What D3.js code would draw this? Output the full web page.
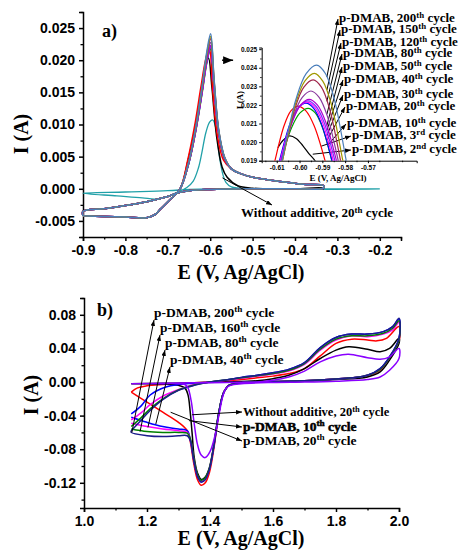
<!DOCTYPE html>
<html>
<head>
<meta charset="utf-8">
<script src="https://cdn.jsdelivr.net/npm/d3@7"></script>
<style>
  body { margin: 0; background: #fff; }
  svg { display: block; }
</style>
</head>
<body>
<svg id="chart" width="460" height="550"></svg>
<script>
// ---------- Panel a: Zn stripping, p-DMAB cycles (E in V, I in A) ----------
const aCycleNums   = ["2", "3", "10", "20", "30", "40", "50", "80", "120", "150", "200"];
const aCycleSup    = ["nd", "rd", "th", "th", "th", "th", "th", "th", "th", "th", "th"];

// shared cathodic part of the forward sweep
const mainLead = [[-0.90,-0.0042],[-0.85,-0.0043],[-0.80,-0.0044],[-0.75,-0.0045],[-0.73,-0.0040],[-0.718,-0.0032],[-0.695,-0.0017],[-0.671,0.0000]];
// stripping peak of each cycle
const mainPeak2   = [[-0.653,0.0042],[-0.637,0.0090],[-0.622,0.0148],[-0.612,0.0190],[-0.604,0.0203],[-0.596,0.0158],[-0.585,0.0082],[-0.572,0.0034],[-0.560,0.0018],[-0.535,0.0005],[-0.50,0.0001],[-0.42,0.0000],[-0.333,0.0000]];
const mainPeak3   = [[-0.653,0.0045],[-0.637,0.0097],[-0.622,0.0158],[-0.611,0.0200],[-0.602,0.0219],[-0.594,0.0152],[-0.583,0.0082],[-0.569,0.0045]];
const mainPeak10  = [[-0.650,0.0041],[-0.634,0.0090],[-0.619,0.0149],[-0.608,0.0196],[-0.599,0.0218],[-0.591,0.0158],[-0.580,0.0086],[-0.566,0.0046]];
const mainPeak20  = [[-0.650,0.0041],[-0.634,0.0091],[-0.619,0.0151],[-0.608,0.0198],[-0.599,0.0221],[-0.591,0.0160],[-0.580,0.0087],[-0.566,0.0047]];
const mainPeak30  = [[-0.650,0.0042],[-0.634,0.0091],[-0.619,0.0152],[-0.608,0.0199],[-0.599,0.02215],[-0.591,0.0160],[-0.580,0.0087],[-0.566,0.0047]];
const mainPeak40  = [[-0.650,0.0042],[-0.634,0.0092],[-0.619,0.0152],[-0.608,0.0200],[-0.599,0.02222],[-0.591,0.0161],[-0.580,0.0088],[-0.566,0.0047]];
const mainPeak50  = [[-0.650,0.0042],[-0.634,0.0092],[-0.619,0.0153],[-0.608,0.0201],[-0.599,0.0223],[-0.591,0.0162],[-0.580,0.0088],[-0.566,0.0047]];
const mainPeak80  = [[-0.650,0.0042],[-0.634,0.0093],[-0.619,0.0155],[-0.608,0.0204],[-0.599,0.02275],[-0.591,0.0165],[-0.580,0.0089],[-0.566,0.0048]];
const mainPeak120 = [[-0.650,0.0043],[-0.634,0.0094],[-0.619,0.0157],[-0.608,0.0208],[-0.599,0.02335],[-0.591,0.0168],[-0.580,0.0090],[-0.566,0.0048]];
const mainPeak150 = [[-0.650,0.0043],[-0.634,0.0095],[-0.619,0.0158],[-0.608,0.0210],[-0.599,0.0237],[-0.591,0.0170],[-0.580,0.0091],[-0.566,0.0049]];
const mainPeak200 = [[-0.650,0.0043],[-0.634,0.0096],[-0.619,0.0160],[-0.608,0.0213],[-0.599,0.0241],[-0.591,0.0172],[-0.580,0.0092],[-0.566,0.0049]];
// decay after the peak and the return sweep
const mainTail   = [[-0.550,0.0031],[-0.530,0.0024],[-0.500,0.0018],[-0.430,0.0011],[-0.380,0.0007],[-0.333,0.0005]];
const mainReturn = [[-0.333,0.0001],[-0.40,0.0000],[-0.50,0.0000],[-0.60,-0.0001],[-0.65,-0.0003],[-0.68,-0.0007],[-0.70,-0.0012],[-0.75,-0.0020],[-0.80,-0.0026],[-0.85,-0.0031],[-0.90,-0.0035],[-0.90,-0.0042]];

// without additive, 20th cycle
const noAdditiveA = [[-0.20,0.0000],[-0.35,0.0000],[-0.50,0.0000],[-0.60,0.0000],[-0.65,-0.0001],[-0.70,-0.0003],[-0.80,-0.0005],[-0.90,-0.0007],
  [-0.82,-0.0011],[-0.76,-0.0014],[-0.73,-0.0016],[-0.705,-0.0013],[-0.68,-0.0006],[-0.655,0.0002],[-0.640,0.0012],[-0.628,0.0032],[-0.620,0.0055],
  [-0.610,0.0088],[-0.601,0.0104],[-0.594,0.0107],[-0.587,0.0095],[-0.577,0.0045],[-0.570,0.0022],[-0.563,0.0010],[-0.550,0.0003],[-0.50,0.0000],[-0.20,0.0000]];

// inset: tops of the stripping peaks
const insetPeak2   = [[-0.6095,0.0197],[-0.6072,0.0201],[-0.6045,0.02033],[-0.6015,0.0202],[-0.5985,0.0198],[-0.5960,0.0194],[-0.5932,0.0190],[-0.5925,0.0188]];
const insetPeak3   = [[-0.6112,0.0188],[-0.6108,0.019],[-0.6068,0.02088],[-0.6038,0.02168],[-0.6008,0.02194],[-0.5972,0.02168],[-0.5936,0.02088],[-0.5888,0.019],[-0.5884,0.0188]];
const insetPeak10  = [[-0.6086,0.0188],[-0.6082,0.019],[-0.6034,0.0208],[-0.5998,0.02157],[-0.5962,0.02182],[-0.5931,0.02157],[-0.5900,0.0208],[-0.5858,0.019],[-0.5854,0.0188]];
const insetPeak20  = [[-0.6092,0.0188],[-0.6088,0.019],[-0.6042,0.02098],[-0.6007,0.02182],[-0.5972,0.0221],[-0.5938,0.02182],[-0.5904,0.02098],[-0.5858,0.019],[-0.5854,0.0188]];
const insetPeak30  = [[-0.6089,0.0188],[-0.6085,0.019],[-0.6038,0.02102],[-0.6003,0.02187],[-0.5968,0.02215],[-0.5933,0.02187],[-0.5898,0.02102],[-0.5852,0.019],[-0.5848,0.0188]];
const insetPeak40  = [[-0.6086,0.0188],[-0.6082,0.019],[-0.6034,0.02106],[-0.5999,0.02193],[-0.5963,0.02222],[-0.5928,0.02193],[-0.5892,0.02106],[-0.5845,0.019],[-0.5841,0.0188]];
const insetPeak50  = [[-0.6084,0.0188],[-0.6080,0.019],[-0.6031,0.02111],[-0.5995,0.0220],[-0.5958,0.0223],[-0.5922,0.0220],[-0.5886,0.02111],[-0.5838,0.019],[-0.5834,0.0188]];
const insetPeak80  = [[-0.6082,0.0188],[-0.6078,0.019],[-0.6027,0.0214],[-0.5988,0.02241],[-0.5950,0.02275],[-0.5914,0.02241],[-0.5878,0.0214],[-0.5830,0.019],[-0.5826,0.0188]];
const insetPeak120 = [[-0.6079,0.0188],[-0.6075,0.019],[-0.6021,0.02178],[-0.5981,0.02296],[-0.5940,0.02335],[-0.5904,0.02296],[-0.5868,0.02178],[-0.5820,0.019],[-0.5816,0.0188]];
const insetPeak150 = [[-0.6079,0.0188],[-0.6075,0.019],[-0.6019,0.02201],[-0.5977,0.02328],[-0.5935,0.0237],[-0.5898,0.02328],[-0.5860,0.02201],[-0.5810,0.019],[-0.5806,0.0188]];
const insetPeak200 = [[-0.6081,0.0188],[-0.6077,0.019],[-0.6016,0.02229],[-0.5971,0.02368],[-0.5925,0.02414],[-0.5886,0.02368],[-0.5847,0.02229],[-0.5795,0.019],[-0.5791,0.0188]];

// points on the inset curves that the labels point at
const insetPointers = [[-0.5942,0.01935],[-0.5905,0.01978],[-0.5875,0.01985],[-0.5880,0.02008],[-0.5880,0.02034],[-0.5880,0.02063],[-0.5880,0.0209],[-0.5880,0.0215],[-0.5880,0.0222],[-0.5880,0.0228],[-0.5880,0.0235]];

// axis ticks, panel a
const aTicksX = [-0.9,-0.8,-0.7,-0.6,-0.5,-0.4,-0.3,-0.2];
const aTicksY = [-0.005,0.000,0.005,0.010,0.015,0.020,0.025];
const insetTicksX = [-0.61,-0.60,-0.59,-0.58,-0.57];
const insetTicksY = [0.019,0.020,0.021,0.022,0.023,0.024,0.025];

// ---------- Panel b: oxidation of p-DMAB (E in V, I in A) ----------
const bNoAdditive = [[1.15,-0.002],[1.25,-0.0015],[1.35,-0.001],[1.45,0.000],[1.55,0.0015],[1.60,0.004],[1.65,0.008],[1.70,0.016],[1.75,0.028],[1.80,0.038],[1.84,0.042],[1.90,0.039],[1.94,0.036],[1.97,0.040],[2.00,0.052],
  [2.00,0.046],[1.97,0.026],[1.94,0.012],[1.90,0.006],[1.80,0.003],[1.70,0.001],[1.60,0.000],[1.50,-0.001],[1.46,-0.004],[1.443,-0.013],[1.428,-0.036],[1.412,-0.075],[1.398,-0.102],[1.385,-0.113],[1.372,-0.116],[1.36,-0.108],[1.35,-0.090],[1.343,-0.060],[1.337,-0.035],[1.330,-0.015],[1.32,-0.007],[1.30,-0.004],[1.25,-0.0025],[1.20,-0.002],[1.15,-0.002]];
const bCycle10 = [[1.15,-0.012],[1.17,-0.007],[1.20,-0.0045],[1.25,-0.003],[1.30,-0.002],[1.35,-0.001],[1.40,0.000],[1.45,0.001],[1.50,0.003],[1.55,0.005],[1.60,0.007],[1.65,0.010],[1.70,0.016],[1.75,0.031],[1.80,0.046],[1.85,0.051],[1.90,0.050],[1.93,0.049],[1.96,0.052],[2.00,0.066],
  [2.00,0.048],[1.97,0.028],[1.94,0.014],[1.90,0.007],[1.85,0.005],[1.80,0.0035],[1.70,0.0015],[1.60,0.0005],[1.50,-0.001],[1.46,-0.004],[1.443,-0.013],[1.428,-0.038],[1.412,-0.080],[1.398,-0.108],[1.385,-0.120],[1.372,-0.123],[1.36,-0.116],[1.348,-0.096],[1.338,-0.072],[1.328,-0.058],[1.30,-0.048],[1.25,-0.036],[1.20,-0.024],[1.15,-0.012]];
const bCycle20 = [[1.15,-0.002],[1.25,-0.0015],[1.35,-0.001],[1.45,-0.0005],[1.55,0.000],[1.60,0.002],[1.65,0.006],[1.70,0.013],[1.75,0.024],[1.80,0.031],[1.84,0.033],[1.90,0.029],[1.94,0.027],[1.97,0.030],[2.00,0.040],
  [2.00,0.028],[1.97,0.014],[1.94,0.006],[1.90,0.003],[1.80,0.001],[1.70,0.000],[1.60,-0.0005],[1.50,-0.002],[1.465,-0.004],[1.45,-0.008],[1.44,-0.018],[1.428,-0.040],[1.415,-0.065],[1.40,-0.083],[1.385,-0.090],[1.372,-0.087],[1.36,-0.074],[1.35,-0.050],[1.34,-0.022],[1.33,-0.007],[1.32,-0.003],[1.25,-0.002],[1.15,-0.002]];
const bCycle40 = [[1.15,-0.038],[1.18,-0.029],[1.21,-0.0155],[1.26,-0.006],[1.30,-0.003],[1.35,-0.0015],[1.40,0.000],[1.45,0.0025],[1.50,0.0055],[1.55,0.008],[1.60,0.011],[1.65,0.015],[1.70,0.023],[1.75,0.041],[1.80,0.053],[1.85,0.057],[1.90,0.057],[1.95,0.060],[1.98,0.066],[2.00,0.075],
  [2.00,0.052],[1.97,0.030],[1.94,0.016],[1.90,0.008],[1.85,0.005],[1.80,0.0035],[1.70,0.0015],[1.60,0.0005],[1.50,-0.001],[1.46,-0.004],[1.443,-0.013],[1.428,-0.037],[1.412,-0.077],[1.398,-0.104],[1.385,-0.116],[1.372,-0.119],[1.36,-0.112],[1.348,-0.092],[1.338,-0.070],[1.328,-0.058],[1.30,-0.056],[1.25,-0.053],[1.20,-0.048],[1.15,-0.042]];
const bCycle80 = [[1.15,-0.045],[1.18,-0.037],[1.21,-0.027],[1.25,-0.017],[1.30,-0.009],[1.35,-0.003],[1.40,0.000],[1.45,0.002],[1.50,0.0045],[1.55,0.007],[1.60,0.0095],[1.65,0.013],[1.70,0.021],[1.75,0.038],[1.80,0.050],[1.85,0.055],[1.90,0.054],[1.95,0.057],[1.98,0.062],[2.00,0.071],
  [2.00,0.050],[1.97,0.029],[1.94,0.015],[1.90,0.008],[1.85,0.005],[1.80,0.0035],[1.70,0.0015],[1.60,0.0005],[1.50,-0.001],[1.46,-0.004],[1.443,-0.013],[1.428,-0.037],[1.412,-0.077],[1.398,-0.104],[1.385,-0.115],[1.372,-0.118],[1.36,-0.111],[1.348,-0.091],[1.338,-0.069],[1.328,-0.060],[1.30,-0.058],[1.25,-0.056],[1.20,-0.053],[1.15,-0.049]];
const bCycle160 = [[1.15,-0.053],[1.18,-0.043],[1.21,-0.032],[1.25,-0.020],[1.30,-0.0095],[1.35,-0.0035],[1.40,0.000],[1.45,0.0025],[1.50,0.005],[1.55,0.0075],[1.60,0.010],[1.65,0.014],[1.70,0.022],[1.75,0.039],[1.80,0.051],[1.85,0.055],[1.90,0.055],[1.95,0.058],[1.98,0.064],[2.00,0.073],
  [2.00,0.050],[1.97,0.029],[1.94,0.015],[1.90,0.008],[1.85,0.005],[1.80,0.0035],[1.70,0.0015],[1.60,0.0005],[1.50,-0.001],[1.46,-0.004],[1.443,-0.013],[1.428,-0.036],[1.412,-0.076],[1.398,-0.103],[1.385,-0.114],[1.372,-0.117],[1.36,-0.110],[1.348,-0.090],[1.338,-0.068],[1.328,-0.061],[1.30,-0.060],[1.25,-0.060],[1.20,-0.059],[1.15,-0.056]];
const bCycle200 = [[1.15,-0.058],[1.18,-0.046],[1.21,-0.034],[1.25,-0.021],[1.30,-0.010],[1.35,-0.004],[1.40,0.000],[1.45,0.0025],[1.50,0.0055],[1.55,0.008],[1.60,0.011],[1.65,0.015],[1.70,0.023],[1.75,0.041],[1.80,0.053],[1.85,0.057],[1.90,0.057],[1.95,0.060],[1.98,0.066],[2.00,0.076],
  [2.00,0.052],[1.97,0.030],[1.94,0.016],[1.90,0.008],[1.85,0.005],[1.80,0.0035],[1.70,0.0015],[1.60,0.0005],[1.50,-0.001],[1.46,-0.004],[1.443,-0.013],[1.428,-0.037],[1.412,-0.077],[1.398,-0.104],[1.385,-0.116],[1.372,-0.119],[1.36,-0.112],[1.348,-0.092],[1.338,-0.070],[1.328,-0.064],[1.30,-0.064],[1.25,-0.065],[1.20,-0.064],[1.15,-0.060],[1.15,-0.058]];

// points the panel b labels refer to
const bPointersTop    = [[1.152,-0.060],[1.178,-0.059],[1.203,-0.054],[1.228,-0.050]];   // 200th, 160th, 80th, 40th
const bPointersBottom = [[1.343,-0.039],[1.333,-0.046],[1.275,-0.036]];                  // without additive, 10th, 20th

const bTicksX = [1.0,1.2,1.4,1.6,1.8,2.0];
const bTicksY = [-0.12,-0.08,-0.04,0.00,0.04,0.08];

// ---------- drawing ----------
const svg = d3.select("#chart");
const serif = "'Liberation Serif','Times New Roman',serif";
const sans = "'Liberation Sans',Arial,sans-serif";

const defs = svg.append("defs");
function arrowMarker(id, w, h) {
  defs.append("marker").attr("id", id)
    .attr("viewBox", `0 0 ${w} ${h}`).attr("refX", w).attr("refY", h / 2)
    .attr("markerWidth", w).attr("markerHeight", h)
    .attr("markerUnits", "userSpaceOnUse").attr("orient", "auto")
    .append("path").attr("d", `M0,0L${w},${h / 2}L0,${h}Z`).attr("fill", "#000");
}
arrowMarker("headS", 6, 4.5);
arrowMarker("headL", 10, 8);

function styleAxis(g, size, sw) {
  g.select(".domain").attr("stroke-width", sw);
  g.selectAll(".tick line").attr("stroke-width", sw);
  g.selectAll(".tick text").attr("font-family", sans).attr("font-weight", "bold").attr("font-size", size).attr("fill", "#000");
}
function minorAxis(g, gen) {
  g.call(gen);
  g.select(".domain").remove();
  g.selectAll(".tick text").remove();
}
function supText(g, x, y, before, sup, after, size) {
  const t = g.append("text").attr("x", x).attr("y", y)
    .attr("font-family", serif).attr("font-weight", "bold").attr("font-size", size).attr("fill", "#000");
  t.append("tspan").text(before);
  t.append("tspan").attr("dy", -size * 0.34).attr("font-size", size * 0.68).text(sup);
  t.append("tspan").attr("dy", size * 0.34).text(after);
  return t;
}
function cycleText(g, x, y, num, sup, size) {
  return supText(g, x, y, `p-DMAB, ${num}`, sup, " cycle", size);
}

// ===== panel a =====
const xA = d3.scaleLinear().domain([-0.9, -0.15]).range([83, 401]);
const yA = d3.scaleLinear().domain([-0.0075, 0.0275]).range([237, 12]);
const lineA = d3.line().x(d => xA(d[0])).y(d => yA(d[1])).curve(d3.curveCatmullRom.alpha(0.5));

const aColors = ["#000000", "#ff0000", "#00a000", "#0000ff", "#ff00ff", "#7b2cff", "#b000d0", "#8a3a9e", "#a0284c", "#a09800", "#4a7ebb"];
const mainPeaks = [mainPeak2, mainPeak3, mainPeak10, mainPeak20, mainPeak30, mainPeak40, mainPeak50, mainPeak80, mainPeak120, mainPeak150, mainPeak200];
const insetPeaks = [insetPeak2, insetPeak3, insetPeak10, insetPeak20, insetPeak30, insetPeak40, insetPeak50, insetPeak80, insetPeak120, insetPeak150, insetPeak200];

const gA = svg.append("g");
gA.append("g").attr("transform", `translate(0,237)`)
  .call(g => minorAxis(g, d3.axisBottom(xA).tickValues(d3.range(-0.85, -0.14, 0.1)).tickSize(2.5)))
  .call(g => styleAxis(g, 14, 1.3));
gA.append("g").attr("transform", `translate(0,237)`)
  .call(d3.axisBottom(xA).tickValues(aTicksX).tickSizeOuter(0).tickSize(4).tickPadding(4).tickFormat(d => d.toFixed(1)))
  .call(g => styleAxis(g, 14, 1.5));
gA.append("g").attr("transform", `translate(83,0)`)
  .call(g => minorAxis(g, d3.axisLeft(yA).tickValues(d3.range(-0.0075, 0.028, 0.005)).tickSize(2.5)))
  .call(g => styleAxis(g, 14, 1.3));
gA.append("g").attr("transform", `translate(83,0)`)
  .call(d3.axisLeft(yA).tickValues(aTicksY).tickSizeOuter(0).tickSize(4).tickPadding(4).tickFormat(d => d.toFixed(3)))
  .call(g => styleAxis(g, 14, 1.5));

// voltammograms
const curvesA = gA.append("g").attr("fill", "none");
curvesA.append("path").attr("d", lineA(noAdditiveA)).attr("stroke", "#20a0a8").attr("stroke-width", 1.3);
mainPeaks.forEach((pk, i) => {
  const pts = i === 0 ? mainLead.concat(pk, mainReturn) : mainLead.concat(pk, mainTail, mainReturn);
  curvesA.append("path").attr("d", lineA(pts)).attr("stroke", aColors[i]).attr("stroke-width", 1.5);
});

gA.append("text").attr("x", 102).attr("y", 37).attr("font-family", serif).attr("font-weight", "bold").attr("font-size", 18).text("a)");
gA.append("text").attr("x", 241).attr("y", 279).attr("text-anchor", "middle").attr("font-family", serif).attr("font-weight", "bold").attr("font-size", 20).text("E (V, Ag/AgCl)");
gA.append("text").attr("transform", "translate(28,134) rotate(-90)").attr("text-anchor", "middle").attr("font-family", serif).attr("font-weight", "bold").attr("font-size", 20).text("I (A)");

// pointer from the main peak to the inset
gA.append("line").attr("x1", xA(-0.572)).attr("y1", yA(0.0200)).attr("x2", xA(-0.546)).attr("y2", yA(0.0200))
  .attr("stroke", "#000").attr("stroke-width", 1.5).attr("marker-end", "url(#headL)");

// without additive label
supText(gA, 241, 217, "Without additive, 20", "th", " cycle", 13);
gA.append("line").attr("x1", xA(-0.571)).attr("y1", yA(0.0017)).attr("x2", 272).attr("y2", 205)
  .attr("stroke", "#000").attr("stroke-width", 1).attr("marker-end", "url(#headS)");

// ----- inset -----
const xI = d3.scaleLinear().domain([-0.6166, -0.5486]).range([261.7, 416.7]);
const yI = d3.scaleLinear().domain([0.019, 0.02509]).range([160.7, 47.5]);
const lineI = d3.line().x(d => xI(d[0])).y(d => yI(d[1])).curve(d3.curveCatmullRom.alpha(0.5));
defs.append("clipPath").attr("id", "insetClip").append("rect")
  .attr("x", 261.7).attr("y", 47.5).attr("width", 155).attr("height", 113.2);

const gI = svg.append("g");
gI.append("g").attr("transform", `translate(0,160.7)`)
  .call(g => minorAxis(g, d3.axisBottom(xI).tickValues(d3.range(-0.615, -0.548, 0.01)).tickSize(1.5)))
  .call(g => styleAxis(g, 6.5, 0.9));
gI.append("g").attr("transform", `translate(0,160.7)`)
  .call(d3.axisBottom(xI).tickValues(insetTicksX).tickSizeOuter(0).tickSize(2.5).tickPadding(2).tickFormat(d => d.toFixed(2)))
  .call(g => styleAxis(g, 6.5, 1));
gI.append("g").attr("transform", `translate(261.7,0)`)
  .call(g => minorAxis(g, d3.axisLeft(yI).tickValues(d3.range(0.0195, 0.0251, 0.001)).tickSize(1.5)))
  .call(g => styleAxis(g, 6.5, 0.9));
gI.append("g").attr("transform", `translate(261.7,0)`)
  .call(d3.axisLeft(yI).tickValues(insetTicksY).tickSizeOuter(0).tickSize(2.5).tickPadding(2).tickFormat(d => d.toFixed(3)))
  .call(g => styleAxis(g, 6.5, 1));

const curvesI = gI.append("g").attr("fill", "none").attr("clip-path", "url(#insetClip)");
insetPeaks.forEach((pk, i) => {
  curvesI.append("path").attr("d", lineI(pk)).attr("stroke", aColors[i]).attr("stroke-width", 1.2);
});
gI.append("text").attr("x", 338).attr("y", 181).attr("text-anchor", "middle").attr("font-family", serif).attr("font-weight", "bold").attr("font-size", 9).text("E (V, Ag/AgCl)");
gI.append("text").attr("transform", "translate(243,100) rotate(-90)").attr("text-anchor", "middle").attr("font-family", serif).attr("font-weight", "bold").attr("font-size", 9).text("I (A)");

// cycle labels with pointers into the inset (2nd ... 200th)
const aLabelX = [352, 352, 347, 346, 344, 344, 343, 343, 342, 341, 339];
const aLabelY = [153, 139, 127, 110, 98, 83, 70, 57, 46, 33, 22];
aCycleNums.forEach((n, i) => {
  cycleText(gA, aLabelX[i], aLabelY[i], n, aCycleSup[i], 13);
  const p = insetPointers[i];
  gA.append("line").attr("x1", xI(p[0])).attr("y1", yI(p[1]))
    .attr("x2", aLabelX[i] - 1).attr("y2", aLabelY[i] - 3)
    .attr("stroke", "#000").attr("stroke-width", 1).attr("marker-end", "url(#headS)");
});

// ===== panel b =====
const xB = d3.scaleLinear().domain([1.0, 2.0]).range([84, 399]);
const yB = d3.scaleLinear().domain([-0.15, 0.10]).range([508, 298]);
const lineB = d3.line().x(d => xB(d[0])).y(d => yB(d[1])).curve(d3.curveCatmullRom.alpha(0.5));

const gB = svg.append("g");
gB.append("g").attr("transform", `translate(0,508)`)
  .call(g => minorAxis(g, d3.axisBottom(xB).tickValues(d3.range(1.1, 2.0, 0.2)).tickSize(2.5)))
  .call(g => styleAxis(g, 14, 1.3));
gB.append("g").attr("transform", `translate(0,508)`)
  .call(d3.axisBottom(xB).tickValues(bTicksX).tickSizeOuter(0).tickSize(4).tickPadding(4).tickFormat(d => d.toFixed(1)))
  .call(g => styleAxis(g, 14, 1.5));
gB.append("g").attr("transform", `translate(84,0)`)
  .call(g => minorAxis(g, d3.axisLeft(yB).tickValues([-0.14, -0.10, -0.06, -0.02, 0.02, 0.06, 0.10]).tickSize(2.5)))
  .call(g => styleAxis(g, 14, 1.3));
gB.append("g").attr("transform", `translate(84,0)`)
  .call(d3.axisLeft(yB).tickValues(bTicksY).tickSizeOuter(0).tickSize(4).tickPadding(4).tickFormat(d => d.toFixed(2)))
  .call(g => styleAxis(g, 14, 1.5));

const bCurves = [bNoAdditive, bCycle10, bCycle20, bCycle40, bCycle80, bCycle160, bCycle200];
const bColors = ["#000000", "#ff0000", "#8a00ff", "#0000ff", "#ff00ff", "#008000", "#1c1c8c"];
const drawOrder = [1, 0, 3, 4, 5, 6, 2];
const curvesB = gB.append("g").attr("fill", "none");
drawOrder.forEach(i => {
  curvesB.append("path").attr("d", lineB(bCurves[i])).attr("stroke", bColors[i]).attr("stroke-width", 1.5);
});

gB.append("text").attr("x", 97).attr("y", 316).attr("font-family", serif).attr("font-weight", "bold").attr("font-size", 18).text("b)");
gB.append("text").attr("x", 241).attr("y", 545).attr("text-anchor", "middle").attr("font-family", serif).attr("font-weight", "bold").attr("font-size", 20).text("E (V, Ag/AgCl)");
gB.append("text").attr("transform", "translate(38,395) rotate(-90)").attr("text-anchor", "middle").attr("font-family", serif).attr("font-weight", "bold").attr("font-size", 20).text("I (A)");

// upper labels: 200th, 160th, 80th, 40th
const bTopNums = ["200", "160", "80", "40"];
const bTopX = [154, 160, 165, 170];
const bTopY = [317, 332, 347, 364];
bTopNums.forEach((n, i) => {
  cycleText(gB, bTopX[i], bTopY[i], n, "th", 13.5);
  const p = bPointersTop[i];
  gB.append("line").attr("x1", xB(p[0])).attr("y1", yB(p[1])).attr("x2", bTopX[i]).attr("y2", bTopY[i] + 3)
    .attr("stroke", "#000").attr("stroke-width", 1).attr("marker-end", "url(#headS)");
});

// lower labels: without additive, 10th, 20th
const bBotY = [416, 431, 445];
supText(gB, 243, bBotY[0], "Without additive, 20", "th", " cycle", 12.5);
cycleText(gB, 243, bBotY[1], "10", "th", 13.5).attr("stroke", "#000").attr("stroke-width", 0.5);
cycleText(gB, 243, bBotY[2], "20", "th", 13.5);
bPointersBottom.forEach((p, i) => {
  gB.append("line").attr("x1", xB(p[0])).attr("y1", yB(p[1])).attr("x2", 242).attr("y2", bBotY[i] - 4)
    .attr("stroke", "#000").attr("stroke-width", 1).attr("marker-end", "url(#headS)");
});
</script>
</body>
</html>
